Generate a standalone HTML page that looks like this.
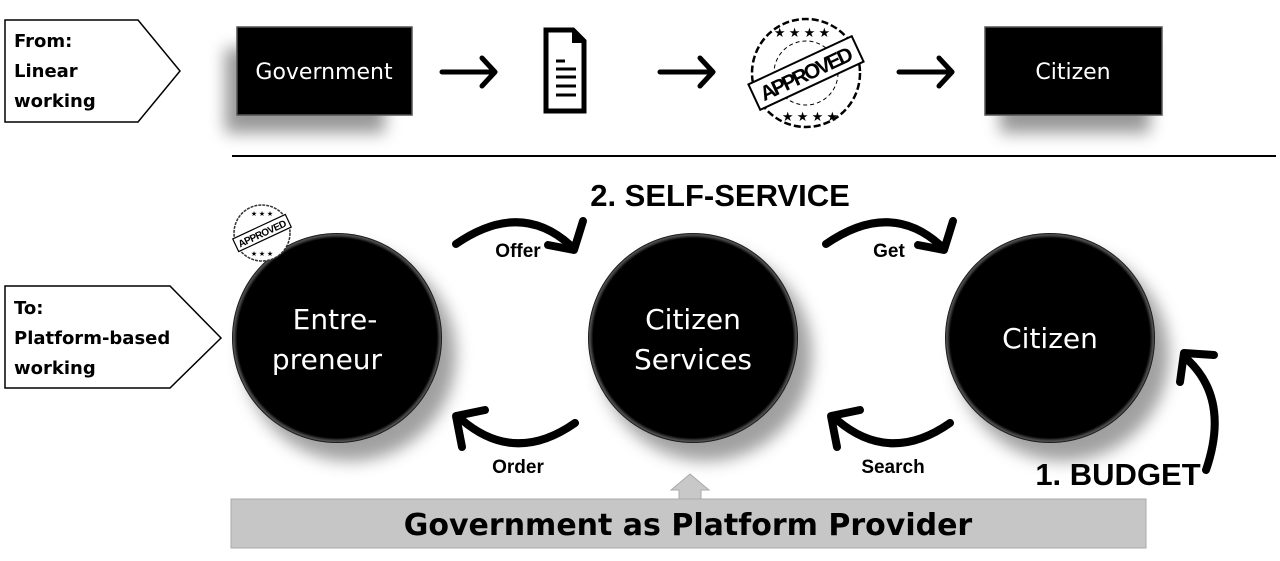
<!DOCTYPE html>
<html><head><meta charset="utf-8"><style>
body{margin:0;background:#fff;}
svg{display:block;}
.b{font-family:"Liberation Sans",Arial,sans-serif;font-weight:bold;}
.c{font-family:"DejaVu Sans","Liberation Sans",sans-serif;}
</style></head><body>
<svg width="1280" height="561" viewBox="0 0 1280 561" xmlns="http://www.w3.org/2000/svg">
<defs>
<filter id="sh" x="-30%" y="-30%" width="160%" height="160%"><feGaussianBlur stdDeviation="8"/></filter>
<radialGradient id="cg" cx="50%" cy="50%" r="50%"><stop offset="0.95" stop-color="#000"/><stop offset="0.985" stop-color="#555"/><stop offset="1" stop-color="#000"/></radialGradient>
</defs>
<!-- top label -->
<polygon points="5,20 138,20 180,71 138,122 5,122" fill="#fff" stroke="#000" stroke-width="1.5"/>
<text class="c" font-weight="bold" font-size="18" x="14" y="47">From:</text>
<text class="c" font-weight="bold" font-size="18" x="14" y="77">Linear</text>
<text class="c" font-weight="bold" font-size="18" x="14" y="107">working</text>
<!-- boxes -->
<rect x="225" y="48" width="160" height="85" fill="#777" filter="url(#sh)" opacity="0.75"/>
<rect x="237" y="27" width="175" height="88" fill="#000" stroke="#555" stroke-width="1.5"/>
<text class="c" fill="#fff" font-size="22" x="324" y="79" text-anchor="middle">Government</text>
<rect x="1000" y="48" width="150" height="85" fill="#777" filter="url(#sh)" opacity="0.75"/>
<rect x="985" y="27" width="177" height="88" fill="#000" stroke="#555" stroke-width="1.5"/>
<text class="c" fill="#fff" font-size="22" x="1073" y="79" text-anchor="middle">Citizen</text>
<!-- arrows -->
<g stroke="#000" stroke-width="5" fill="none" stroke-linecap="round" stroke-linejoin="round">
<path d="M442,72 H495 M482,58 L495,72 L482,86"/>
<path d="M660,72 H713 M700,58 L713,72 L700,86"/>
<path d="M899,72 H952 M939,58 L952,72 L939,86"/>
</g>
<!-- document -->
<path d="M546,30 H573 L584,41 V111 H546 Z" fill="#fff" stroke="#000" stroke-width="5"/>
<path d="M572,30 V43 H584 Z" fill="#000"/>
<g stroke="#000" stroke-width="3"><line x1="556" y1="61" x2="565" y2="61"/><line x1="556" y1="69" x2="576" y2="69"/><line x1="556" y1="77" x2="576" y2="77"/><line x1="556" y1="86" x2="576" y2="86"/><line x1="556" y1="95" x2="576" y2="95"/></g>
<!-- stamp -->
<g transform="translate(806,73)">
<circle r="54" fill="#fff" stroke="#000" stroke-width="2.5" stroke-dasharray="7 3"/>
<circle r="32" fill="none" stroke="#000" stroke-width="1" stroke-dasharray="4 3"/>
<g transform="rotate(-25)">
<rect x="-57" y="-14" width="114" height="28" fill="#fff" stroke="#000" stroke-width="2"/>
<text class="b" font-size="21" x="0" y="8" text-anchor="middle" textLength="100">APPROVED</text>
</g>
<text font-size="13" x="-4" y="-36" text-anchor="middle">★ ★ ★ ★</text>
<text font-size="13" x="4" y="48" text-anchor="middle">★ ★ ★ ★</text>
</g>
<line x1="232" y1="156" x2="1276" y2="156" stroke="#000" stroke-width="2"/>
<text class="b" font-size="31" x="720" y="206" text-anchor="middle">2. SELF-SERVICE</text>
<!-- bottom label -->
<polygon points="5,286 170,286 221,338 170,388 5,388" fill="#fff" stroke="#000" stroke-width="1.5"/>
<text class="c" font-weight="bold" font-size="18" x="14" y="314">To:</text>
<text class="c" font-weight="bold" font-size="18" x="14" y="344">Platform-based</text>
<text class="c" font-weight="bold" font-size="18" x="14" y="374">working</text>
<!-- circles -->
<g>
<circle cx="350" cy="355" r="106" fill="#888" filter="url(#sh)" opacity="0.8"/>
<circle cx="706" cy="355" r="106" fill="#888" filter="url(#sh)" opacity="0.8"/>
<circle cx="1063" cy="355" r="106" fill="#888" filter="url(#sh)" opacity="0.8"/>
<circle cx="337" cy="338" r="105" fill="url(#cg)"/>
<circle cx="693" cy="338" r="105" fill="url(#cg)"/>
<circle cx="1050" cy="338" r="105" fill="url(#cg)"/>
</g>
<g class="c" fill="#fff" font-size="28" text-anchor="middle">
<text x="335" y="329">Entre-</text><text x="327" y="369">preneur</text>
<text x="693" y="329">Citizen</text><text x="693" y="369">Services</text>
<text x="1050" y="348">Citizen</text>
</g>
<!-- small stamp -->
<g transform="translate(262,233)">
<circle r="28" fill="#fff" stroke="#333" stroke-width="1.5" stroke-dasharray="3 1"/>
<g transform="rotate(-25)"><rect x="-29" y="-7" width="58" height="14" fill="#fff" stroke="#000" stroke-width="1.2"/>
<text class="b" font-size="10" x="0" y="4" text-anchor="middle" textLength="52">APPROVED</text></g>
<text font-size="7" x="0" y="-17" text-anchor="middle">★ ★ ★</text>
<text font-size="7" x="0" y="23" text-anchor="middle">★ ★ ★</text>
</g>
<!-- loop arrows -->
<g stroke="#000" stroke-width="8" fill="none" stroke-linecap="round" stroke-linejoin="round">
<path d="M456,244 Q520,200 570,245"/>
<path d="M548,245 L574,250 L583,221"/>
<path d="M826,244 Q890,200 940,245"/>
<path d="M918,245 L944,250 L953,221"/>
<path d="M575,423 Q515,465 462,420"/>
<path d="M462,447 L456,416 L485,410"/>
<path d="M950,423 Q890,465 837,420"/>
<path d="M837,447 L831,416 L860,410"/>
<path d="M1206,470 Q1230,400 1188,360"/>
<path d="M1180,382 L1184,353 L1214,355"/>
</g>
<g class="b" font-size="19" text-anchor="middle">
<text x="518" y="257">Offer</text>
<text x="889" y="257">Get</text>
<text x="518" y="473">Order</text>
<text x="893" y="473">Search</text>
</g>
<text class="b" font-size="31" x="1118" y="485" text-anchor="middle">1. BUDGET</text>
<!-- platform bar -->
<polygon points="679,499 679,490 671,490 690,474 709,490 701,490 701,499" fill="#c8c8c8" stroke="#aaa"/>
<rect x="231" y="499" width="915" height="49" fill="#c6c6c6" stroke="#aaa"/>
<text class="c" font-weight="bold" font-size="30" x="688" y="535" text-anchor="middle">Government as Platform Provider</text>
</svg>
</body></html>
